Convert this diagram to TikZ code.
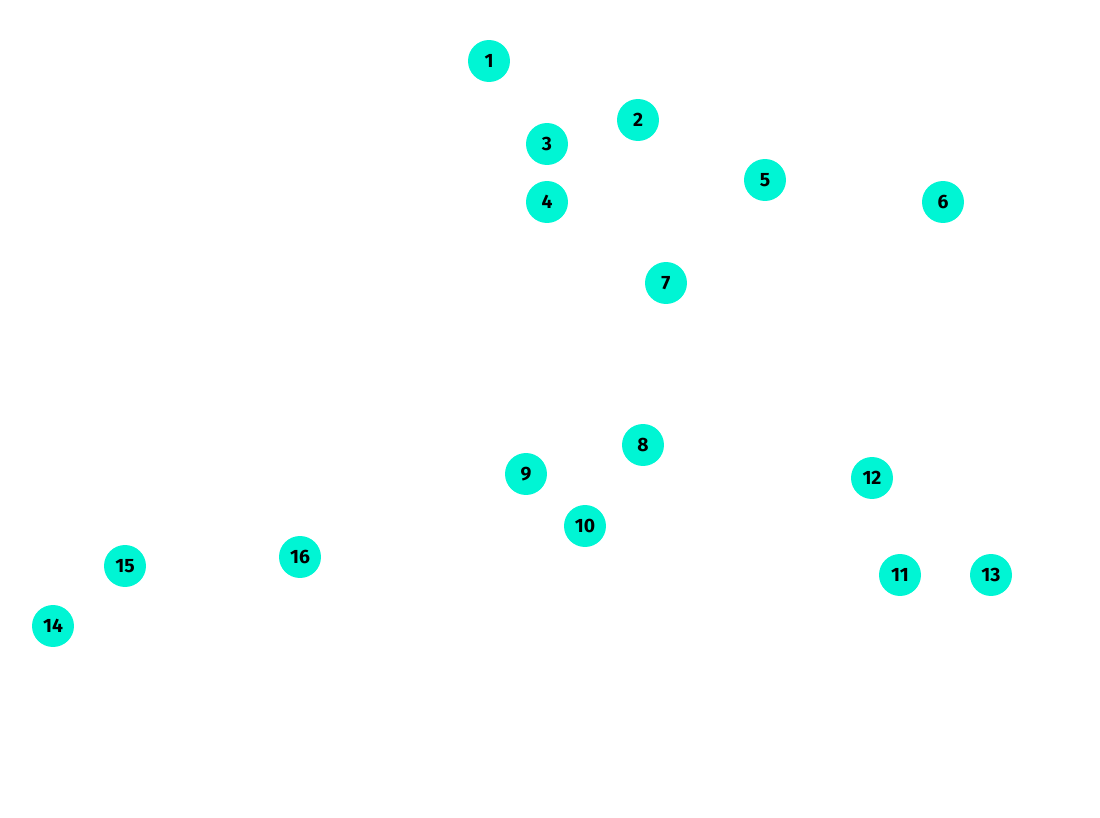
\documentclass[tikz,border=0pt]{standalone}
\usepackage{fontspec}
\setmainfont{Fira Sans}
\usetikzlibrary{positioning}
\definecolor{dot}{HTML}{00F5D4}

\begin{document}
\begin{tikzpicture}[x=0.02cm,y=-0.02cm,
			every node/.style={
				circle,fill=dot,
				minimum size=0.84cm,inner sep=0pt,
				font=\fontsize{11}{13}\selectfont\bfseries
			}
		]
		\useasboundingbox (0,0) rectangle (1100,818);
		\foreach \n/\x/\y in {1/489/61, 2/638/120, 3/547/144, 4/547/202,
			5/765/180, 6/943/202, 7/666/283, 8/643/445, 9/526/474,
			10/585/526, 11/900/575, 12/872/478, 13/991/575,
			14/53/626, 15/125/566, 16/300/557}
		\node (p\n) at (\x,\y) {\n};
	\end{tikzpicture}
\end{document}
